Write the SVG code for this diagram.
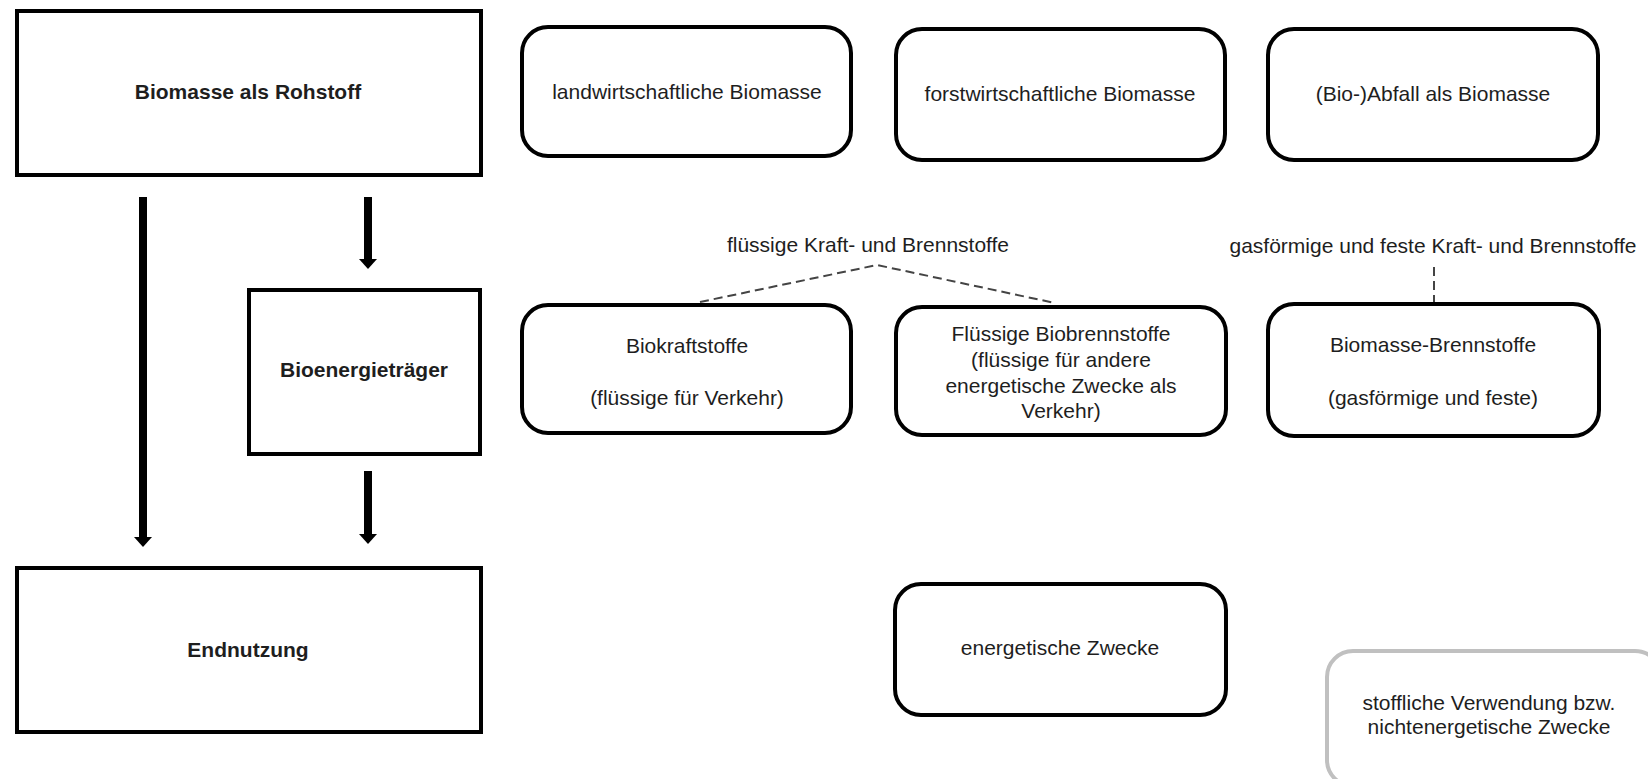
<svg xmlns="http://www.w3.org/2000/svg" width="1648" height="779" viewBox="0 0 1648 779">
<style>
.box{fill:#fff;stroke:#000;stroke-width:4}
.rbox{fill:#fff;stroke:#000;stroke-width:4}
.gbox{fill:#fff;stroke:#c0c0c0;stroke-width:4}
text{font-family:"Liberation Sans",Arial,sans-serif;font-size:21px;fill:#1e1e1e;text-anchor:middle}
.b{font-weight:bold}
.arrow{stroke:#000;stroke-width:8;fill:none;marker-end:url(#ah)}
.dash{stroke:#444;stroke-width:2;fill:none;stroke-dasharray:9 5}
</style>
<defs>
<marker id="ah" markerUnits="userSpaceOnUse" viewBox="0 -10 12 20" refX="0" refY="0" markerWidth="12" markerHeight="20" orient="auto">
<path d="M0,-9 L10,0 L0,9 Z" fill="#000"/>
</marker>
</defs>
<rect width="1648" height="779" fill="#fff"/>
<g id="connectors">
<line class="arrow" x1="143" y1="197" x2="143" y2="537"/>
<line class="arrow" x1="368" y1="197" x2="368" y2="259"/>
<line class="arrow" x1="368" y1="471" x2="368" y2="534"/>
<polyline class="dash" points="700,302 877,265 1055,303"/>
<line class="dash" x1="1434" y1="267" x2="1434" y2="302"/>
</g>
<g id="rohstoff">
<rect class="box" x="17" y="11" width="464" height="164"/>
<text class="b" x="248" y="99">Biomasse als Rohstoff</text>
</g>
<g id="bioenergietraeger">
<rect class="box" x="249" y="290" width="231" height="164"/>
<text class="b" x="364" y="377">Bioenergieträger</text>
</g>
<g id="endnutzung">
<rect class="box" x="17" y="568" width="464" height="164"/>
<text class="b" x="248" y="657">Endnutzung</text>
</g>
<g id="landwirtschaftlich">
<rect class="rbox" x="522" y="27" width="329" height="129" rx="26"/>
<text x="687" y="99">landwirtschaftliche Biomasse</text>
</g>
<g id="forstwirtschaftlich">
<rect class="rbox" x="896" y="29" width="329" height="131" rx="26"/>
<text x="1060" y="101">forstwirtschaftliche Biomasse</text>
</g>
<g id="abfall">
<rect class="rbox" x="1268" y="29" width="330" height="131" rx="26"/>
<text x="1433" y="101">(Bio-)Abfall als Biomasse</text>
</g>
<g id="label-fluessig">
<text x="868" y="252">flüssige Kraft- und Brennstoffe</text>
</g>
<g id="label-gasfoermig">
<text x="1433" y="253">gasförmige und feste Kraft- und Brennstoffe</text>
</g>
<g id="biokraftstoffe">
<rect class="rbox" x="522" y="305" width="329" height="128" rx="26"/>
<text x="687" y="353">Biokraftstoffe</text>
<text x="687" y="405">(flüssige für Verkehr)</text>
</g>
<g id="biobrennstoffe">
<rect class="rbox" x="896" y="307" width="330" height="128" rx="26"/>
<text x="1061" y="341">Flüssige Biobrennstoffe</text>
<text x="1061" y="367">(flüssige für andere</text>
<text x="1061" y="393">energetische Zwecke als</text>
<text x="1061" y="418">Verkehr)</text>
</g>
<g id="biomasse-brennstoffe">
<rect class="rbox" x="1268" y="304" width="331" height="132" rx="26"/>
<text x="1433" y="352">Biomasse-Brennstoffe</text>
<text x="1433" y="405">(gasförmige und feste)</text>
</g>
<g id="energetisch">
<rect class="rbox" x="895" y="584" width="331" height="131" rx="26"/>
<text x="1060" y="655">energetische Zwecke</text>
</g>
<g id="stofflich">
<rect class="gbox" x="1327" y="651" width="334" height="135" rx="26"/>
<text x="1489" y="710">stoffliche Verwendung bzw.</text>
<text x="1489" y="734">nichtenergetische Zwecke</text>
</g>
</svg>
